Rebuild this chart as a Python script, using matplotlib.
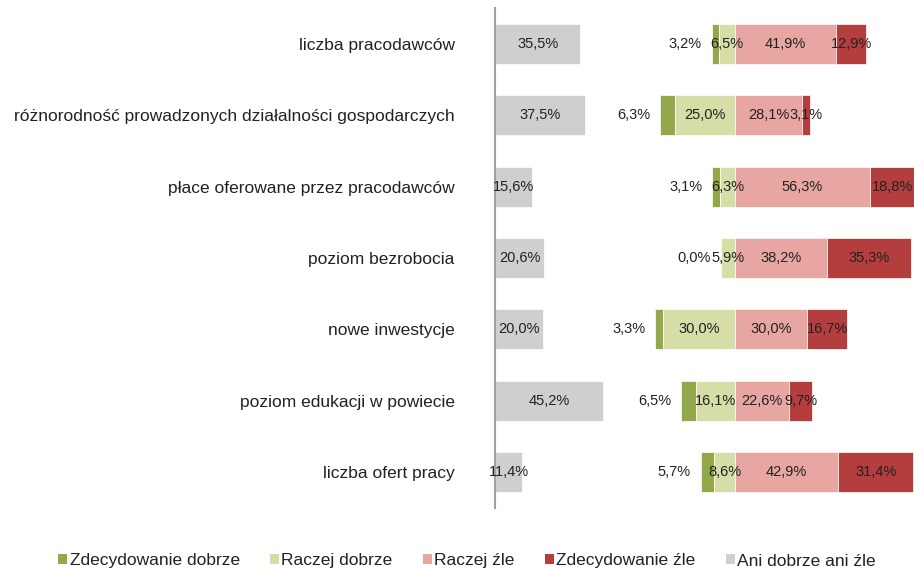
import matplotlib
matplotlib.use("Agg")
import matplotlib.pyplot as plt
from matplotlib.patches import Patch

categories = ["liczba pracodawców",
              "różnorodność prowadzonych działalności gospodarczych",
              "płace oferowane przez pracodawców",
              "poziom bezrobocia",
              "nowe inwestycje",
              "poziom edukacji w powiecie",
              "liczba ofert pracy"]
zdecydowanie_dobrze = [3.2, 6.3, 3.1, 0.0, 3.3, 6.5, 5.7]
raczej_dobrze = [6.5, 25.0, 6.3, 5.9, 30.0, 16.1, 8.6]
raczej_zle = [41.9, 28.1, 56.3, 38.2, 30.0, 22.6, 42.9]
zdecydowanie_zle = [12.9, 3.1, 18.8, 35.3, 16.7, 9.7, 31.4]
ani_dobrze_ani_zle = [35.5, 37.5, 15.6, 20.6, 20.0, 45.2, 11.4]
series_names = ["Zdecydowanie dobrze", "Raczej dobrze", "Raczej źle",
                "Zdecydowanie źle", "Ani dobrze ani źle"]

colors = ["#93A84A", "#D7DDA6", "#E8A6A2", "#B43E3E", "#CFCFCF"]
txt_color = "#222222"
CENTER = 100.0

plt.rcParams['font.family'] = ['Liberation Sans', 'DejaVu Sans']

fig = plt.figure(figsize=(9.14, 5.71), dpi=100)
ax = fig.add_axes([495/914, 1-508/571, 1-495/914, 500/571])

def fmt(v):
    return f"{v:.1f}%".replace('.', ',')

y = list(range(len(categories)))
h = 0.56
ec = dict(edgecolor="white", linewidth=0.5)
fs = 10.5

for i in y:
    zd, rd, rz, zz, an = (zdecydowanie_dobrze[i], raczej_dobrze[i], raczej_zle[i],
                          zdecydowanie_zle[i], ani_dobrze_ani_zle[i])
    # neutral
    ax.barh(i, an, left=0, height=h, color=colors[4], **ec)
    ax.text(an/2, i, fmt(an), ha="center", va="center", fontsize=fs, color=txt_color)
    # positive side (leftwards from center)
    left_zd = CENTER - rd - zd
    ax.barh(i, zd, left=left_zd, height=h, color=colors[0], **ec)
    ax.barh(i, rd, left=CENTER - rd, height=h, color=colors[1], **ec)
    ax.annotate(fmt(zd), xy=(left_zd, i), xytext=(-7, 0), textcoords="offset points",
                ha="right", va="center", fontsize=fs, color=txt_color)
    ax.text(CENTER - rd/2, i, fmt(rd), ha="center", va="center", fontsize=fs, color=txt_color)
    # negative side (rightwards)
    ax.barh(i, rz, left=CENTER, height=h, color=colors[2], **ec)
    ax.barh(i, zz, left=CENTER + rz, height=h, color=colors[3], **ec)
    ax.text(CENTER + rz/2, i, fmt(rz), ha="center", va="center", fontsize=fs, color=txt_color)
    ax.text(CENTER + rz + zz/2, i, fmt(zz), ha="center", va="center", fontsize=fs,
            color=txt_color, clip_on=False)

ax.set_xlim(0, 174.6)
ax.set_ylim(len(categories) - 0.5, -0.5)
ax.set_yticks(y)
ax.set_yticklabels(categories, fontsize=12.5, color=txt_color)
ax.tick_params(axis="y", length=0, pad=29)
ax.set_xticks([])
for s in ["top", "right", "bottom"]:
    ax.spines[s].set_visible(False)
ax.spines["left"].set_color("#A0A0A0")
ax.spines["left"].set_linewidth(1.5)

handles = [Patch(facecolor=c, edgecolor="none") for c in colors]
fig.legend(handles, series_names, loc="center", bbox_to_anchor=(0.511, 1-561/571),
           ncol=5, frameon=False, fontsize=12.5, handlelength=0.5, handleheight=0.5,
           handletextpad=0.15, columnspacing=1.75, labelcolor=txt_color)

fig.savefig("out.png", dpi=100)
